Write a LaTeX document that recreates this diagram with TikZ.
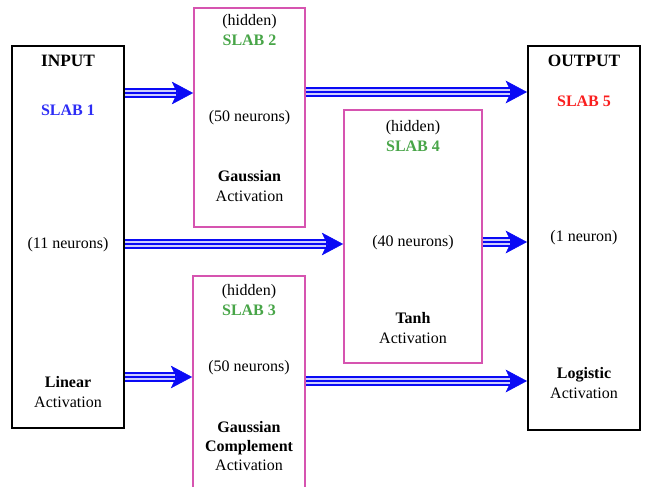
\documentclass[tikz,border=0pt]{standalone}
\usepackage{fontspec}
\setmainfont{Liberation Serif}
\definecolor{slabpink}{RGB}{214,84,176}
\definecolor{slabblue}{RGB}{45,45,245}
\definecolor{slabgreen}{RGB}{72,165,72}
\definecolor{slabred}{RGB}{250,30,30}
\definecolor{flowblue}{RGB}{10,10,245}
\usepackage{tikz}
\usetikzlibrary{arrows.meta,fit,positioning}

\tikzset{
  outbox/.style={draw=black, line width=1.5pt, inner sep=0pt},
  hidbox/.style={draw=slabpink, line width=1.3pt, inner sep=0pt},
  lbl/.style={font=\fontsize{12}{14.4}\selectfont, align=center, inner sep=0pt},
  flow/.style={draw=flowblue, line width=7.5pt,
    -{Stealth[length=16pt,width=17pt,inset=4pt,line width=0.4pt]},
    postaction={draw=white!80!flowblue, line width=4.5pt, -, shorten >=13pt},
    postaction={draw=flowblue, line width=1.5pt, -, shorten >=13pt}},
}

\begin{document}
\begin{tikzpicture}[x=0.75pt,y=-0.75pt]
            \useasboundingbox (0,0) rectangle (646,486);

            % Slabs
            \node[outbox, fit={(12,46) (124,428)}] (in) {};
            \node[hidbox, fit={(194,8) (305,227)}] (s2) {};
            \node[hidbox, fit={(344,110) (482,363)}] (s4) {};
            \node[hidbox, fit={(193,276) (305,500)}] (s3) {};
            \node[outbox, fit={(528,46) (640,430)}] (out) {};

            % Input slab
            \node[lbl, font=\fontsize{13}{15}\selectfont\bfseries] (intitle) at (68,61) {INPUT};
            \node[lbl, text=slabblue] (inname) at (68,110) {\textbf{SLAB 1}};
            \node[lbl] (inn) at (68,245) {(11 neurons)};
            \node[lbl] (inact) at (68,392) {\textbf{Linear}\\Activation};

            % Hidden slabs
            \node[lbl] (s2name) at (249.5,30) {(hidden)\\\textcolor{slabgreen}{\textbf{SLAB 2}}};
            \node[lbl] (s2n) at (249.5,118) {(50 neurons)};
            \node[lbl] (s2act) at (249.5,186) {\textbf{Gaussian}\\Activation};

            \node[lbl] (s4name) at (413,136) {(hidden)\\\textcolor{slabgreen}{\textbf{SLAB 4}}};
            \node[lbl] (s4n) at (413,243) {(40 neurons)};
            \node[lbl] (s4act) at (413,328) {\textbf{Tanh}\\Activation};

            \node[lbl] (s3name) at (249,300) {(hidden)\\\textcolor{slabgreen}{\textbf{SLAB 3}}};
            \node[lbl] (s3n) at (249,368) {(50 neurons)};
            \node[lbl] (s3act) at (249,446) {\textbf{Gaussian}\\\textbf{Complement}\\Activation};

            % Output slab
            \node[lbl, font=\fontsize{13}{15}\selectfont\bfseries] (outtitle) at (584,61) {OUTPUT};
            \node[lbl, text=slabred] (outname) at (584,101) {\textbf{SLAB 5}};
            \node[lbl] (outn) at (584,238) {(1 neuron)};
            \node[lbl] (outact) at (584,383) {\textbf{Logistic}\\Activation};

            % Connections
            \draw[flow] (in.east |- 0,93) -- (s2.west |- 0,93);
            \draw[flow] (s2.east |- 0,92) -- (out.west |- 0,92);
            \draw[flow] (in.east |- 0,244) -- (s4.west |- 0,244);
            \draw[flow] (s4.east |- 0,242) -- (out.west |- 0,242);
            \draw[flow] (in.east |- 0,377) -- (s3.west |- 0,377);
            \draw[flow] (s3.east |- 0,381) -- (out.west |- 0,381);
        \end{tikzpicture}
\end{document}
